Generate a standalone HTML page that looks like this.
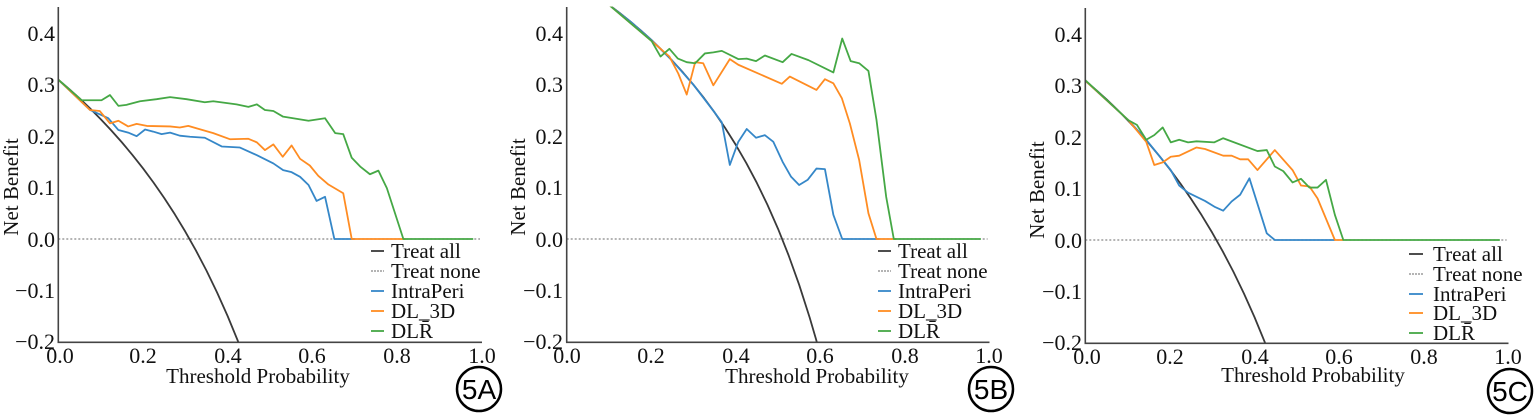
<!DOCTYPE html>
<html><head><meta charset="utf-8"><style>
html,body{margin:0;padding:0;background:#fff;}
svg{display:block;}
text{font-family:"Liberation Serif",serif;fill:#111;}
.tk{font-size:22px;}
.lg{font-size:21px;}
.ax{font-size:21px;}
.d{fill:none;stroke-width:1.8;vector-effect:non-scaling-stroke;stroke-linejoin:round;}
.ta{stroke:#3a3a3a;}
.tn{stroke:#888;stroke-dasharray:2 2;stroke-width:1.2;}
.b{stroke:#3587c8;}
.o{stroke:#ff8c22;}
.g{stroke:#45a845;}
.circ{fill:none;stroke:#000;stroke-width:2.5;}
.lab{font-family:"Liberation Sans",sans-serif;font-size:28px;fill:#000;}
</style></head><body>
<svg width="1538" height="415" viewBox="0 0 1538 415" xmlns="http://www.w3.org/2000/svg">
<defs>
<clipPath id="cp" clipPathUnits="userSpaceOnUse"><rect x="0" y="-0.2" width="1.02" height="0.652"/></clipPath>
</defs>

<!-- Panel A -->
<g>
<g transform="matrix(423.4,0,0,-514,58.3,239)" clip-path="url(#cp)">
<polyline class="d tn" points="0,0 0.996,0"/>
<polyline class="d ta" points="0,.31 .025,.2923 .05,.2737 .075,.2541 .1,.2333 .125,.2114 .15,.1882 .175,.1636 .2,.1375 .225,.1097 .25,.08 .275,.0483 .3,.0143 .325,-.0223 .35,-.0615 .375,-.104 .4,-.15 .425,-.2001"/>
<polyline class="d b" points="0,.31 .075,.251 .118,.235 .142,.212 .165,.207 .185,.2 .205,.213 .224,.209 .244,.204 .264,.207 .287,.201 .311,.199 .346,.197 .386,.18 .429,.178 .469,.163 .508,.147 .531,.134 .551,.13 .571,.121 .591,.105 .61,.074 .63,.082 .652,0 .7,0"/>
<polyline class="d o" points="0,.31 .075,.251 .098,.249 .122,.225 .142,.23 .165,.219 .185,.224 .209,.22 .264,.219 .287,.217 .307,.22 .366,.206 .406,.194 .449,.195 .469,.188 .488,.173 .508,.184 .53,.16 .551,.182 .571,.156 .594,.143 .614,.123 .638,.106 .673,.089 .693,0 .82,0"/>
<polyline class="d g" points="0,.31 .055,.27 .102,.27 .122,.28 .142,.259 .161,.261 .193,.268 .232,.272 .264,.276 .303,.272 .346,.266 .366,.268 .421,.262 .449,.257 .469,.262 .488,.251 .508,.249 .531,.238 .591,.23 .63,.235 .654,.206 .673,.204 .693,.158 .713,.141 .736,.126 .756,.133 .776,.099 .815,0 .98,0"/>
</g>
<line x1="58.3" y1="7" x2="58.3" y2="342.5" stroke="#444" stroke-width="1.6"/>
<line x1="57.5" y1="342.3" x2="482" y2="342.3" stroke="#444" stroke-width="1.6"/>
<g class="tk" text-anchor="end">
<text x="55" y="41">0.4</text><text x="55" y="92">0.3</text><text x="55" y="144">0.2</text><text x="55" y="195">0.1</text><text x="55" y="247">0.0</text><text x="55" y="298">−0.1</text><text x="55" y="349">−0.2</text>
</g>
<g class="tk" text-anchor="middle">
<text x="60" y="363">0.0</text><text x="143" y="363">0.2</text><text x="228" y="363">0.4</text><text x="312" y="363">0.6</text><text x="397" y="363">0.8</text><text x="482" y="363">1.0</text>
</g>
<text class="ax" x="258" y="383" text-anchor="middle">Threshold Probability</text>
<text class="ax" transform="translate(18,187) rotate(-90)" text-anchor="middle">Net Benefit</text>
<g class="lg">
<line x1="371" y1="251" x2="384" y2="251" stroke="#3a3a3a" stroke-width="1.8"/><text x="391" y="258">Treat all</text>
<line x1="371" y1="271" x2="384" y2="271" stroke="#888" stroke-width="1.2" stroke-dasharray="2 1"/><text x="391" y="278">Treat none</text>
<line x1="371" y1="291" x2="384" y2="291" stroke="#3587c8" stroke-width="1.8"/><text x="391" y="298">IntraPeri</text>
<line x1="371" y1="311" x2="384" y2="311" stroke="#ff8c22" stroke-width="1.8"/><text x="391" y="318">DL_3D</text>
<line x1="371" y1="331" x2="384" y2="331" stroke="#45a845" stroke-width="1.8"/><text x="391" y="338">DLR̄</text>
</g>
<circle class="circ" cx="479" cy="389" r="22"/>
<text class="lab" x="479" y="399" text-anchor="middle">5A</text>
</g>

<!-- Panel B -->
<g>
<g transform="matrix(422.6,0,0,-514,566.7,239)" clip-path="url(#cp)">
<polyline class="d tn" points="0,0 0.996,0"/>
<polyline class="d ta" points="0,.51 .05,.4842 .1,.4556 .125,.44 .15,.4235 .175,.406 .2,.3875 .225,.3677 .25,.3467 .275,.3241 .3,.3 .325,.2741 .35,.2462 .375,.216 .4,.1833 .425,.1478 .45,.109 .475,.0667 .5,.02 .525,-.0316 .55,-.0889 .575,-.1529 .59,-.1951 .595,-.2099"/>
<polyline class="d b" points="0,.51 .05,.4842 .1,.4556 .15,.4235 .2,.3875 .25,.3467 .3,.3 .35,.2462 .367,.227 .386,.144 .406,.189 .426,.214 .448,.197 .469,.202 .489,.189 .511,.15 .531,.121 .55,.105 .57,.115 .591,.137 .611,.136 .631,.047 .652,0 .74,0"/>
<polyline class="d o" points="0,.51 .1,.4556 .201,.385 .243,.355 .264,.322 .284,.281 .304,.344 .323,.342 .347,.299 .386,.35 .406,.339 .509,.302 .528,.316 .591,.29 .611,.311 .631,.303 .651,.274 .67,.225 .692,.154 .714,.05 .733,0 .78,0"/>
<polyline class="d g" points="0,.51 .1,.4556 .201,.385 .222,.355 .243,.37 .263,.351 .284,.344 .304,.342 .327,.361 .347,.363 .367,.366 .406,.35 .426,.351 .448,.346 .469,.357 .511,.344 .532,.36 .572,.348 .631,.324 .652,.39 .672,.346 .692,.342 .714,.327 .733,.232 .756,.082 .774,0 .98,0"/>
</g>
<line x1="566.7" y1="7" x2="566.7" y2="342.5" stroke="#444" stroke-width="1.6"/>
<line x1="566" y1="342.3" x2="989.5" y2="342.3" stroke="#444" stroke-width="1.6"/>
<g class="tk" text-anchor="end">
<text x="563" y="41">0.4</text><text x="563" y="92">0.3</text><text x="563" y="144">0.2</text><text x="563" y="195">0.1</text><text x="563" y="247">0.0</text><text x="563" y="298">−0.1</text><text x="563" y="349">−0.2</text>
</g>
<g class="tk" text-anchor="middle">
<text x="567" y="363">0.0</text><text x="651" y="363">0.2</text><text x="736" y="363">0.4</text><text x="820" y="363">0.6</text><text x="905" y="363">0.8</text><text x="989" y="363">1.0</text>
</g>
<text class="ax" x="817" y="383" text-anchor="middle">Threshold Probability</text>
<text class="ax" transform="translate(525,187) rotate(-90)" text-anchor="middle">Net Benefit</text>
<g class="lg">
<line x1="878" y1="251" x2="891" y2="251" stroke="#3a3a3a" stroke-width="1.8"/><text x="898" y="258">Treat all</text>
<line x1="878" y1="271" x2="891" y2="271" stroke="#888" stroke-width="1.2" stroke-dasharray="2 1"/><text x="898" y="278">Treat none</text>
<line x1="878" y1="291" x2="891" y2="291" stroke="#3587c8" stroke-width="1.8"/><text x="898" y="298">IntraPeri</text>
<line x1="878" y1="311" x2="891" y2="311" stroke="#ff8c22" stroke-width="1.8"/><text x="898" y="318">DL_3D</text>
<line x1="878" y1="331" x2="891" y2="331" stroke="#45a845" stroke-width="1.8"/><text x="898" y="338">DLR̄</text>
</g>
<circle class="circ" cx="991" cy="389" r="22"/>
<text class="lab" x="991" y="399" text-anchor="middle">5B</text>
</g>

<!-- Panel C -->
<g>
<g transform="matrix(423,0,0,-514,1085.3,240)" clip-path="url(#cp)">
<polyline class="d tn" points="0,0 0.996,0"/>
<polyline class="d ta" points="0,.31 .025,.2923 .05,.2737 .075,.2541 .1,.2333 .125,.2114 .15,.1882 .175,.1636 .2,.1375 .225,.1097 .25,.08 .275,.0483 .3,.0143 .325,-.0223 .35,-.0615 .375,-.104 .4,-.15 .425,-.2001"/>
<polyline class="d b" points="0,.31 .102,.233 .144,.195 .202,.136 .222,.106 .243,.092 .283,.076 .307,.064 .326,.057 .346,.075 .366,.088 .388,.12 .429,.013 .448,0 .59,0"/>
<polyline class="d o" points="0,.31 .102,.233 .144,.191 .163,.146 .183,.151 .202,.162 .222,.164 .263,.18 .283,.177 .326,.164 .346,.164 .366,.157 .385,.157 .407,.136 .448,.175 .49,.136 .51,.106 .53,.104 .549,.081 .59,0 .61,0"/>
<polyline class="d g" points="0,.311 .102,.233 .122,.224 .144,.195 .163,.204 .183,.219 .202,.19 .222,.195 .243,.19 .263,.192 .305,.19 .326,.198 .407,.173 .429,.175 .448,.143 .468,.134 .49,.112 .51,.119 .53,.102 .549,.102 .569,.117 .59,.049 .61,0 .98,0"/>
</g>
<line x1="1085.3" y1="8" x2="1085.3" y2="343.5" stroke="#444" stroke-width="1.6"/>
<line x1="1084.5" y1="343.3" x2="1508.5" y2="343.3" stroke="#444" stroke-width="1.6"/>
<g class="tk" text-anchor="end">
<text x="1082" y="42">0.4</text><text x="1082" y="93">0.3</text><text x="1082" y="145">0.2</text><text x="1082" y="196">0.1</text><text x="1082" y="248">0.0</text><text x="1082" y="299">−0.1</text><text x="1082" y="350">−0.2</text>
</g>
<g class="tk" text-anchor="middle">
<text x="1087" y="364">0.0</text><text x="1170" y="364">0.2</text><text x="1255" y="364">0.4</text><text x="1339" y="364">0.6</text><text x="1424" y="364">0.8</text><text x="1508" y="364">1.0</text>
</g>
<text class="ax" x="1313" y="382" text-anchor="middle">Threshold Probability</text>
<text class="ax" transform="translate(1044,190) rotate(-90)" text-anchor="middle">Net Benefit</text>
<g class="lg">
<line x1="1409" y1="254" x2="1423" y2="254" stroke="#3a3a3a" stroke-width="1.8"/><text x="1433" y="261">Treat all</text>
<line x1="1409" y1="274" x2="1423" y2="274" stroke="#888" stroke-width="1.2" stroke-dasharray="2 1"/><text x="1433" y="281">Treat none</text>
<line x1="1409" y1="294" x2="1423" y2="294" stroke="#3587c8" stroke-width="1.8"/><text x="1433" y="301">IntraPeri</text>
<line x1="1409" y1="313" x2="1423" y2="313" stroke="#ff8c22" stroke-width="1.8"/><text x="1433" y="320">DL_3D</text>
<line x1="1409" y1="333" x2="1423" y2="333" stroke="#45a845" stroke-width="1.8"/><text x="1433" y="340">DLR̄</text>
</g>
<circle class="circ" cx="1510" cy="391" r="22"/>
<text class="lab" x="1510" y="401" text-anchor="middle">5C</text>
</g>
</svg>
</body></html>
